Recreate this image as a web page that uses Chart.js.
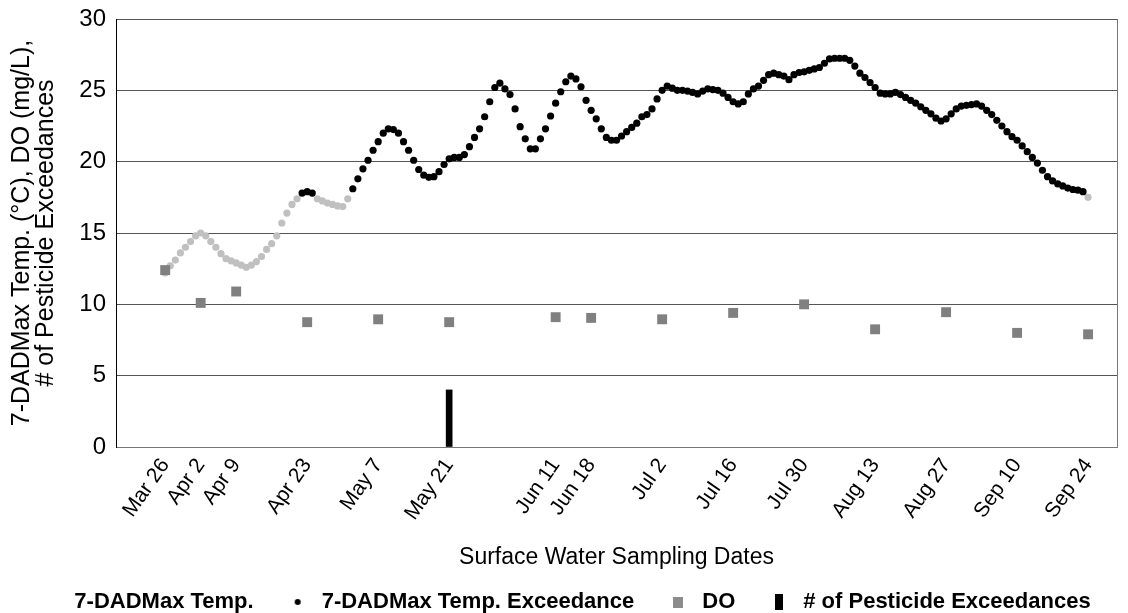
<!DOCTYPE html>
<html>
<head>
<meta charset="utf-8">
<script src="https://cdn.jsdelivr.net/npm/chart.js@4.4.0/dist/chart.umd.min.js"></script>
<style>
  html, body { margin: 0; padding: 0; background: #fff; }
</style>
</head>
<body>
<canvas id="grafico" width="1128" height="613"></canvas>
<script>
// sampling dates (days counted from Mar 26)
const sampleLabels = ["Mar 26", "Apr 2", "Apr 9", "Apr 23", "May 7", "May 21", "Jun 11", "Jun 18",
                      "Jul 2", "Jul 16", "Jul 30", "Aug 13", "Aug 27", "Sep 10", "Sep 24"];
const sampleDays = [0, 7, 14, 28, 42, 56, 77, 84, 98, 112, 126, 140, 154, 168, 182];
const doValues = [12.4, 10.1, 10.9, 8.75, 8.95, 8.75, 9.1, 9.05, 8.95, 9.4, 10.0, 8.25, 9.45, 8.0, 7.9];
const pesticideExc = [0, 0, 0, 0, 0, 4, 0, 0, 0, 0, 0, 0, 0, 0, 0];

// daily 7-DADMax temperature, one value per day from Mar 26 to Sep 24
const tempValues = [
  12.2, 12.7, 13.1, 13.6, 14.0, 14.4, 14.8, 15.0, 14.8, 14.4,
  14.0, 13.55, 13.2, 13.05, 12.9, 12.75, 12.6, 12.75, 13.0, 13.35,
  13.85, 14.25, 14.8, 15.7, 16.4, 17.0, 17.4, 17.8, 17.9, 17.8,
  17.4, 17.25, 17.1, 17.0, 16.9, 16.85, 17.4, 18.1, 18.8, 19.5,
  20.1, 20.8, 21.4, 22.0, 22.3, 22.25, 22.0, 21.4, 20.8, 20.1,
  19.45, 19.05, 18.9, 18.95, 19.3, 19.8, 20.2, 20.3, 20.3, 20.5,
  21.05, 21.7, 22.3, 23.15, 24.2, 25.2, 25.5, 25.1, 24.7, 23.7,
  22.45, 21.6, 20.9, 20.9, 21.6, 22.3, 23.2, 24.1, 24.9, 25.6,
  26.0, 25.8, 25.25, 24.3, 23.6, 23.0, 22.3, 21.7, 21.5, 21.5,
  21.8, 22.1, 22.4, 22.7, 23.15, 23.3, 23.7, 24.4, 25.0, 25.3,
  25.15, 25.0, 25.0, 24.95, 24.85, 24.75, 24.95, 25.1, 25.05, 25.0,
  24.8, 24.5, 24.2, 24.05, 24.2, 24.75, 25.1, 25.3, 25.7, 26.1,
  26.2, 26.1, 26.0, 25.75, 26.1, 26.25, 26.3, 26.4, 26.5, 26.6,
  26.9, 27.2, 27.25, 27.25, 27.25, 27.1, 26.7, 26.2, 25.9, 25.55,
  25.2, 24.8, 24.75, 24.75, 24.85, 24.7, 24.5, 24.3, 24.1, 23.85,
  23.6, 23.35, 23.05, 22.85, 23.0, 23.35, 23.7, 23.9, 23.95, 24.0,
  24.05, 23.9, 23.6, 23.3, 22.9, 22.5, 22.1, 21.75, 21.5, 21.1,
  20.7, 20.3, 19.9, 19.4, 18.95, 18.65, 18.45, 18.3, 18.15, 18.05,
  18.0, 17.9, 17.5
];
const tempLimit = 17.8; // criterion (°C)

Chart.defaults.font.family = "'Liberation Sans', Arial, sans-serif";
Chart.defaults.color = "#000";

// small canvases used as legend markers
function marker(w, h, draw) {
  const c = document.createElement("canvas");
  c.width = w;
  c.height = h;
  if (draw) draw(c.getContext("2d"));
  return c;
}
const legendMarks = [
  marker(1, 1, null),
  marker(8, 8, g => { g.fillStyle = "#000"; g.beginPath(); g.arc(4, 4, 3, 0, Math.PI * 2); g.fill(); }),
  marker(10, 12, g => { g.fillStyle = "#8c8c8c"; g.fillRect(0, 1, 10, 11); }),
  marker(8, 16, g => { g.fillStyle = "#000"; g.fillRect(0, 0, 8, 16); })
];

const plotBorder = {
  id: "plotBorder",
  beforeDatasetsDraw(chart) {
    const { ctx, chartArea } = chart;
    ctx.save();
    ctx.strokeStyle = "#777";
    ctx.lineWidth = 1;
    ctx.beginPath();
    ctx.moveTo(chartArea.right + 0.5, chartArea.top);
    ctx.lineTo(chartArea.right + 0.5, chartArea.bottom);
    ctx.stroke();
    ctx.restore();
  }
};

const ctx = document.getElementById("grafico").getContext("2d");

new Chart(ctx, {
  type: "scatter",
  data: {
    datasets: [
      {
        label: "7-DADMax Temp.",
        data: tempValues.map((v, i) => ({ x: i, y: v < tempLimit ? v : null })),
        pointRadius: 3.6,
        pointBackgroundColor: "#c0c0c0",
        pointBorderWidth: 0,
        order: 2
      },
      {
        label: "7-DADMax Temp. Exceedance",
        data: tempValues.map((v, i) => ({ x: i, y: v >= tempLimit ? v : null })),
        pointRadius: 3.6,
        pointBackgroundColor: "#000",
        pointBorderWidth: 0,
        order: 1
      },
      {
        label: "DO",
        data: sampleDays.map((d, i) => ({ x: d, y: doValues[i] })),
        pointStyle: "rect",
        pointRadius: 7,
        pointBackgroundColor: "#808080",
        pointBorderWidth: 0,
        order: 0
      },
      {
        type: "bar",
        label: "# of Pesticide Exceedances",
        data: sampleDays.map((d, i) => ({ x: d, y: pesticideExc[i] || null })),
        backgroundColor: "#000",
        barThickness: 6,
        order: 3
      }
    ]
  },
  options: {
    responsive: false,
    animation: false,
    layout: { padding: { top: 19, right: 0, bottom: -10, left: 0 } },
    scales: {
      x: {
        type: "linear",
        offset: false,
        min: -9.7,
        max: 187.7,
        afterBuildTicks: s => { s.ticks = sampleDays.map(v => ({ value: v })); },
        afterFit: s => { s.height = 113; },
        ticks: {
          autoSkip: false,
          minRotation: 55,
          maxRotation: 55,
          padding: 7,
          font: { size: 21 },
          callback: (v, i) => sampleLabels[i]
        },
        grid: { display: false, drawTicks: false, offset: false },
        border: { display: true, color: "#777" },
        title: {
          display: true,
          text: "Surface Water Sampling Dates",
          font: { size: 23 },
          padding: { top: 0, bottom: -11 }
        }
      },
      y: {
        min: 0,
        max: 30,
        afterFit: s => { s.width = 116; },
        ticks: { stepSize: 5, padding: 10, font: { size: 24, lineHeight: 0.7 } },
        grid: { color: "#555", drawTicks: false },
        border: { color: "#000" },
        title: {
          display: true,
          text: ["7-DADMax Temp. (°C), DO (mg/L),", "# of Pesticide Exceedances"],
          font: { size: 25, lineHeight: "24px" },
          padding: { top: 10, bottom: 0 }
        }
      },
      // empty right strip so the legend can use the full width
      yRight: {
        position: "right",
        afterFit: s => { s.width = 11; },
        ticks: { display: false },
        grid: { display: false },
        border: { display: false }
      }
    },
    plugins: {
      legend: {
        position: "bottom",
        labels: {
          usePointStyle: true,
          pointStyleWidth: 26,
          padding: 31,
          font: { size: 22, weight: "bold" },
          generateLabels: chart => chart.data.datasets.map((ds, i) => ({
            text: ds.label,
            pointStyle: legendMarks[i],
            fillStyle: "#000",
            strokeStyle: "#000",
            lineWidth: 0,
            hidden: false,
            datasetIndex: i
          }))
        }
      },
      tooltip: { enabled: false }
    }
  },
  plugins: [plotBorder]
});
</script>
</body>
</html>
